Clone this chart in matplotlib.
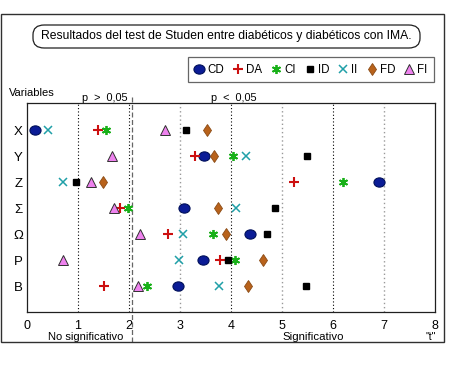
import matplotlib.pyplot as plt
from matplotlib.patches import FancyBboxPatch, Rectangle
from matplotlib.lines import Line2D
from matplotlib.path import Path
from matplotlib.transforms import Affine2D

plt.rcParams['font.family'] = ['Liberation Sans', 'DejaVu Sans']

# filas (de arriba a abajo)
variables = ['X', 'Y', 'Z', 'Σ', 'Ω', 'P', 'B']
series = ['CD', 'DA', 'CI', 'ID', 'II', 'FD', 'FI']

# valores "t", en el orden de variables
CD = [0.16, 3.48, 6.90, 3.08, 4.37, 3.46, 2.96]
DA = [1.39, 3.30, 5.23, 1.83, 2.76, 3.78, 1.51]
CI = [1.54, 4.03, 6.20, 1.98, 3.65, 4.07, 2.35]
ID = [3.12, 5.49, 0.96, 4.87, 4.70, 3.94, 5.48]
II = [0.42, 4.30, 0.71, 4.10, 3.06, 2.99, 3.76]
FD = [3.53, 3.67, 1.49, 3.74, 3.91, 4.62, 4.33]
FI = [2.71, 1.67, 1.26, 1.70, 2.21, 0.71, 2.17]
datos = [CD, DA, CI, ID, II, FD, FI]

umbral = 2.06
ticks_x = [0, 1, 2, 3, 4, 5, 6, 7, 8]

# circulo algo achatado (elipse) como en el original
elipse = Path.unit_circle().transformed(Affine2D().scale(1.2, 1.0))

estilos = {
    'CD': dict(marker=elipse, color='#0b1c96', mec='#00105a', ms=8, mew=0.8),
    'DA': dict(marker='+', color='#cc1010', mec='#cc1010', ms=7.5, mew=1.5),
    'CI': dict(marker=(6, 2, 0), color='#18b018', mec='#18b018', ms=6.5, mew=1.3),
    'ID': dict(marker='s', color='black', mec='black', ms=4.2),
    'II': dict(marker='x', color='#20a0a8', mec='#20a0a8', ms=6, mew=1.1),
    'FD': dict(marker='d', color='#b8621b', mec='#8a4a14', ms=6.2, mew=0.6),
    'FI': dict(marker='^', color='#ee82ee', mec='#303030', ms=7.5, mew=0.7),
}

fig = plt.figure(figsize=(4.5, 3.89), dpi=100)
ax = fig.add_axes([27/450, 77/389, 408/450, 209/389])

# marco exterior
fig.patches.append(Rectangle((1/450, 47/389), 443/450, 328/389, transform=fig.transFigure,
                             fill=False, ec='#303030', lw=1))

# lineas verticales de referencia
for v in [1, 2, 4, 6]:
    ax.axvline(v, color='black', ls=(0, (1, 2)), lw=0.8, zorder=1)
for v in [3, 5, 7]:
    ax.axvline(v, color='#999999', ls=(0, (1, 2)), lw=1.0, zorder=1)
ax.add_line(Line2D([umbral, umbral], [-1.15, 8.35], color='#666666', ls=(0, (4, 2)),
                   lw=0.9, clip_on=False, zorder=1))

filas = list(range(len(variables), 0, -1))
for nombre, vals in zip(series, datos):
    ax.plot(vals, filas, ls='none', label=nombre, zorder=3, **estilos[nombre])

ax.set_xlim(0, 8)
ax.set_ylim(0, 8.05)
ax.set_xticks(ticks_x)
ax.set_xticklabels([str(t) for t in ticks_x], fontsize=9)
ax.set_yticks(filas)
ax.set_yticklabels(variables, fontsize=9.5)
ax.tick_params(axis='x', length=0, pad=6)
ax.tick_params(axis='y', length=0, pad=3)
for s in ax.spines.values():
    s.set_linewidth(0.9)
    s.set_color('#202020')

# titulo en caja redondeada
caja = FancyBboxPatch((33/450, (389-48)/389), 387/450, 23/389, transform=fig.transFigure,
                      boxstyle='round,pad=0,rounding_size=0.025', fill=False, ec='#202020', lw=0.9)
fig.patches.append(caja)
fig.text(226/450, (389-36)/389, 'Resultados del test de Studen entre diabéticos y diabéticos con IMA.',
         ha='center', va='center', fontsize=8.7)

# leyenda, ocupando la caja de 188 a 434 px
leg = fig.legend(loc='lower left', bbox_to_anchor=(188/450, (389-82)/389, 246/450, 28/389),
                 mode='expand', ncol=7, fontsize=8.3, frameon=True, fancybox=False,
                 handlelength=0.8, handletextpad=0.3, columnspacing=0.5, borderpad=0.55,
                 borderaxespad=0, numpoints=1)
leg.get_frame().set_edgecolor('#404040')
leg.get_frame().set_linewidth(0.9)

fig.text(9/450, (389-93)/389, 'Variables', ha='left', va='center', fontsize=8)
fig.text(105/450, (389-98)/389, 'p  >  0,05', ha='center', va='center', fontsize=7.8)
fig.text(234/450, (389-98)/389, 'p  <  0,05', ha='center', va='center', fontsize=7.8)
fig.text(86/450, (389-337)/389, 'No significativo', ha='center', va='center', fontsize=8)
fig.text(313/450, (389-337)/389, 'Significativo', ha='center', va='center', fontsize=8.2)
fig.text(431/450, (389-337)/389, '"t"', ha='center', va='center', fontsize=7.5)

plt.savefig('out.png', dpi=100)
